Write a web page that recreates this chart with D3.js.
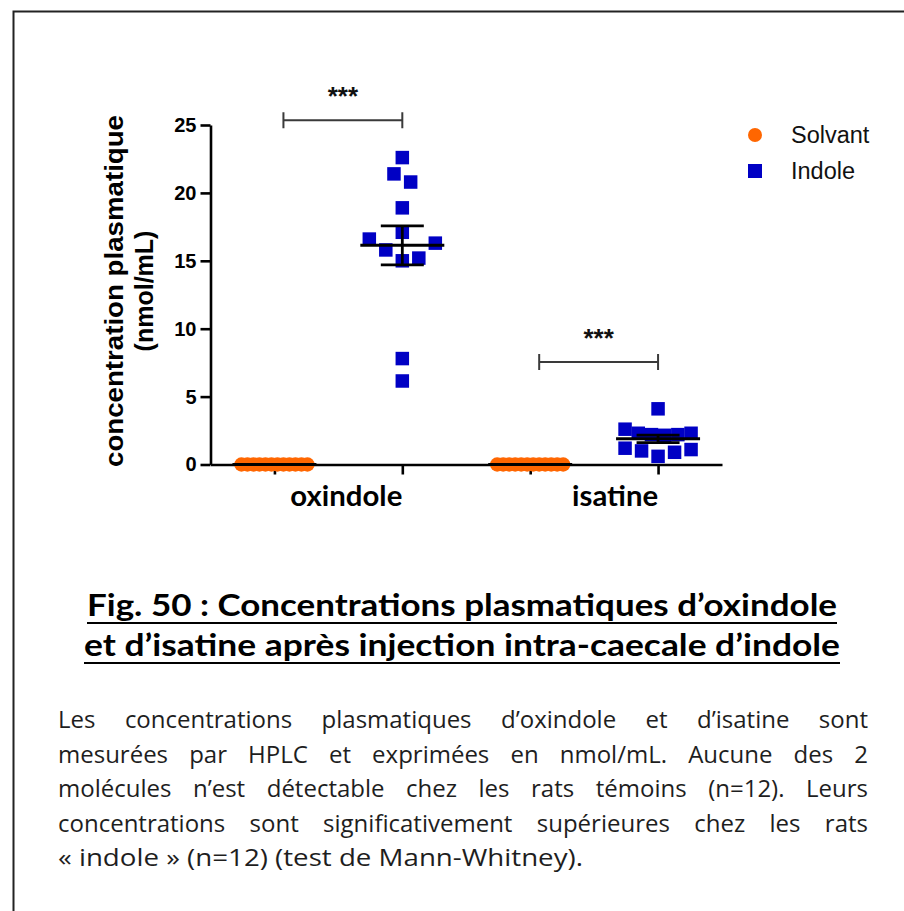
<!DOCTYPE html>
<html><head><meta charset="utf-8">
<script src="https://cdn.jsdelivr.net/npm/d3@7"></script>
<style>html,body{margin:0;padding:0;background:#fff;} svg{display:block;}</style>
</head><body>
<script>
// ---------- DATA ----------
const categories = ["oxindole", "isatine"];
const groups = ["Solvant", "Indole"];
const solvantOxindole = [0, 0, 0, 0, 0, 0, 0, 0, 0, 0, 0, 0];
const indoleOxindole = [22.6, 21.4, 20.8, 18.9, 17.1, 16.6, 16.3, 15.8, 15.2, 15.0, 7.8, 6.15];
const solvantIsatine = [0, 0, 0, 0, 0, 0, 0, 0, 0, 0, 0, 0];
const indoleIsatine = [4.1, 2.6, 2.3, 2.3, 2.2, 2.2, 2.15, 1.2, 1.1, 1.0, 0.9, 0.6];
const yTicks = [0, 5, 10, 15, 20, 25];
const significance = ["***", "***"];
const bracketLevels = [25.35, 7.55];
const yTitleLines = ["concentration plasmatique", "(nmol/mL)"];
const titleLines = ["Fig. 50 : Concentrations plasmatiques d\u2019oxindole",
                    "et d\u2019isatine apr\u00e8s injection intra-caecale d\u2019indole"];
const paragraphLines = [
  "Les concentrations plasmatiques d\u2019oxindole et d\u2019isatine sont",
  "mesur\u00e9es par HPLC et exprim\u00e9es en nmol/mL. Aucune des 2",
  "mol\u00e9cules n\u2019est d\u00e9tectable chez les rats t\u00e9moins (n=12). Leurs",
  "concentrations sont significativement sup\u00e9rieures chez les rats",
  "\u00ab indole \u00bb (n=12) (test de Mann-Whitney)."
];

const columns = [
  {cat: categories[0], group: groups[0], values: solvantOxindole},
  {cat: categories[0], group: groups[1], values: indoleOxindole},
  {cat: categories[1], group: groups[0], values: solvantIsatine},
  {cat: categories[1], group: groups[1], values: indoleIsatine}
];
columns.forEach(c => c.key = c.cat + "|" + c.group);

const colors = {Solvant: "#ff6600", Indole: "#0000c4"};

// ---------- SETUP ----------
const W = 904, H = 911;
const svg = d3.select("body").append("svg").attr("width", W).attr("height", H);

svg.append("path").attr("d", `M13.5,${H} V11.5 H${W}`)
  .attr("fill", "none").attr("stroke", "#222").attr("stroke-width", 2);

const x = d3.scalePoint().domain(columns.map(c => c.key)).range([210.5, 722]).padding(0.5);
const y = d3.scaleLinear().domain([0, 25]).range([464.5, 125]);
const y0 = y(0);

// ---------- BEESWARM (row layout) ----------
const binPx = 25, binShift = 3.5, maxStep = 16.7, maxHalf = 33;
function swarm(values) {
  const pts = values.map(v => ({v, py: y(v)}));
  const bins = d3.group(pts, p => Math.floor((y0 - p.py - binShift) / binPx));
  bins.forEach(arr => {
    arr.sort((a, b) => a.v - b.v);
    const n = arr.length;
    const step = n > 1 ? Math.min(maxStep, 2 * maxHalf / (n - 1)) : 0;
    arr.forEach((p, i) => {
      let off;
      if (n % 2 === 1) { const k = Math.ceil(i / 2); off = (i === 0 ? 0 : (i % 2 === 1 ? 1 : -1) * k); }
      else { const k = Math.floor(i / 2) + 0.5; off = (i % 2 === 0 ? 1 : -1) * k; }
      p.dx = off * step;
    });
  });
  return pts;
}

// ---------- AXES ----------
const yAxis = svg.append("g").attr("transform", "translate(210.5,0)")
  .call(d3.axisLeft(y).tickValues(yTicks).tickSize(10).tickSizeOuter(0).tickPadding(4));
const xAxis = svg.append("g").attr("transform", `translate(0,${y0})`)
  .call(d3.axisBottom(x).tickSize(10).tickSizeOuter(0).tickFormat(""));
[yAxis, xAxis].forEach(a => {
  a.select(".domain").attr("stroke", "#000").attr("stroke-width", 2.6);
  a.selectAll(".tick line").attr("stroke", "#000").attr("stroke-width", 2.6);
});
yAxis.selectAll(".tick text").attr("font-family", "Liberation Sans, Arial, sans-serif")
  .attr("font-weight", "bold").attr("font-size", 20).attr("fill", "#000");

// y title
const yt = svg.append("g").attr("font-family", "Liberation Sans, Arial, sans-serif")
  .attr("font-weight", "bold").attr("font-size", 25).attr("fill", "#000");
yt.append("text").attr("transform", "translate(123,291) rotate(-90)")
  .attr("text-anchor", "middle").attr("textLength", 352).attr("lengthAdjust", "spacingAndGlyphs")
  .text(yTitleLines[0]);
yt.append("text").attr("transform", "translate(153,291) rotate(-90)")
  .attr("text-anchor", "middle").text(yTitleLines[1]);

// ---------- POINTS ----------
const sym = 13.5;
columns.forEach(c => {
  const cx = x(c.key);
  const pts = swarm(c.values);
  const g = svg.append("g");
  if (c.group === "Solvant") {
    g.selectAll("circle").data(pts).join("circle")
      .attr("cx", p => cx + p.dx).attr("cy", p => p.py).attr("r", 7.2)
      .attr("fill", colors.Solvant);
  } else {
    g.selectAll("rect").data(pts).join("rect")
      .attr("x", p => cx + p.dx - sym / 2).attr("y", p => p.py - sym / 2)
      .attr("width", sym).attr("height", sym).attr("fill", colors.Indole);
  }
  // mean +/- SEM
  const m = d3.mean(c.values);
  const sem = d3.deviation(c.values) / Math.sqrt(c.values.length) || 0;
  const eg = svg.append("g").attr("stroke", "#000").attr("stroke-width", 2.8);
  if (sem > 0) {
    eg.append("line").attr("x1", cx).attr("x2", cx).attr("y1", y(m - sem)).attr("y2", y(m + sem));
    [m - sem, m + sem].forEach(v => eg.append("line").attr("x1", cx - 21.5).attr("x2", cx + 21.5)
      .attr("y1", y(v)).attr("y2", y(v)));
  }
  eg.append("line").attr("x1", cx - 42).attr("x2", cx + 42).attr("y1", y(m)).attr("y2", y(m))
    .attr("stroke-width", 3);
});

// ---------- SIGNIFICANCE ----------
categories.forEach((cat, i) => {
  const xl = x(cat + "|" + groups[0]) + 9, xr = x(cat + "|" + groups[1]);
  const by = y(bracketLevels[i]);
  const g = svg.append("g").attr("stroke", "#3a3a3a").attr("stroke-width", 2).attr("fill", "none");
  g.append("path").attr("d", `M${xl},${by - 8}V${by + 8}M${xl},${by}H${xr}M${xr},${by - 8}V${by + 8}`);
  svg.append("text").attr("x", (xl + xr) / 2).attr("y", by - 15)
    .attr("text-anchor", "middle").attr("font-family", "Liberation Sans, Arial, sans-serif")
    .attr("font-weight", "bold").attr("font-size", 26).attr("fill", "#111").text(significance[i]);
});

// ---------- CATEGORY LABELS ----------
const catWidths = [112, 86];
categories.forEach((cat, i) => {
  svg.append("text").attr("x", x(cat + "|" + groups[1])).attr("y", 506)
    .attr("text-anchor", "end").attr("font-family", "Lato, sans-serif").attr("font-weight", "bold")
    .attr("font-size", 29).attr("fill", "#000")
    .attr("textLength", catWidths[i]).attr("lengthAdjust", "spacingAndGlyphs").text(cat);
});

// ---------- LEGEND ----------
const lg = svg.append("g").attr("font-family", "Liberation Sans, Arial, sans-serif").attr("font-size", 23.5).attr("fill", "#111");
groups.forEach((gname, i) => {
  const ly = 135 + i * 36;
  if (gname === "Solvant") lg.append("circle").attr("cx", 755).attr("cy", ly).attr("r", 7).attr("fill", colors.Solvant);
  else lg.append("rect").attr("x", 755 - 7).attr("y", ly - 7).attr("width", 14).attr("height", 14).attr("fill", colors.Indole);
  lg.append("text").attr("x", 791).attr("y", ly + 8).text(gname);
});

// ---------- TITLE ----------
const tWidths = [750, 756];
const tBase = [616, 656];
titleLines.forEach((t, i) => {
  svg.append("text").attr("x", 462).attr("y", tBase[i]).attr("text-anchor", "middle")
    .attr("font-family", "Lato, sans-serif").attr("font-weight", "bold").attr("font-size", 30)
    .attr("fill", "#000").attr("textLength", tWidths[i]).attr("lengthAdjust", "spacingAndGlyphs").text(t);
  svg.append("line").attr("x1", 462 - tWidths[i] / 2).attr("x2", 462 + tWidths[i] / 2)
    .attr("y1", tBase[i] + 7).attr("y2", tBase[i] + 7).attr("stroke", "#000").attr("stroke-width", 2.2);
});

// ---------- PARAGRAPH (justified) ----------
const pLeft = 58, pRight = 868, pBase0 = 728, pLead = 34.5, pSize = 24;
const pFont = "'Open Sans', sans-serif";
const lastWidth = 525;
const meas = svg.append("text").attr("font-family", pFont).attr("font-size", pSize).attr("visibility", "hidden");
function wlen(w) { meas.text(w); return meas.node().getComputedTextLength(); }
paragraphLines.forEach((line, i) => {
  const words = line.split(" ");
  const last = i === paragraphLines.length - 1;
  const natural = wlen(line);
  const scale = last ? lastWidth / natural : Math.min(1, (pRight - pLeft - 6 * (words.length - 1)) / natural);
  const widths = words.map(w => wlen(w) * scale);
  const total = d3.sum(widths);
  const span = last ? lastWidth : (pRight - pLeft);
  const gap = (span - total) / (words.length - 1);
  let cx = pLeft;
  words.forEach((w, j) => {
    svg.append("text").attr("x", cx).attr("y", pBase0 + i * pLead)
      .attr("font-family", pFont).attr("font-size", pSize).attr("fill", "#1e1e1e")
      .attr("textLength", widths[j]).attr("lengthAdjust", "spacingAndGlyphs").text(w);
    cx += widths[j] + gap;
  });
});
meas.remove();
</script>
</body></html>
